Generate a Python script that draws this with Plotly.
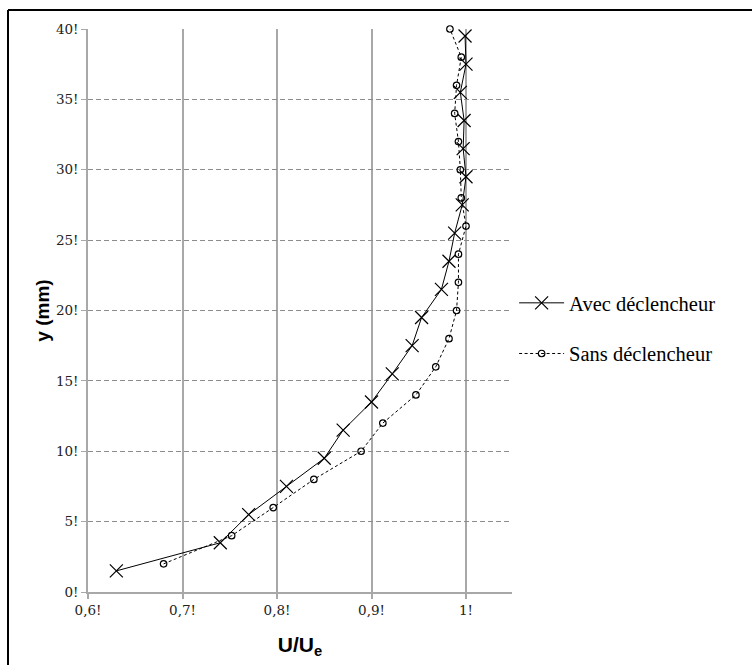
import plotly.graph_objects as go

# Velocity profiles U/Ue versus height y (mm)
y_avec = [1.5, 3.5, 5.5, 7.5, 9.5, 11.5, 13.5, 15.5, 17.5, 19.5,
          21.5, 23.5, 25.5, 27.5, 29.5, 31.5, 33.5, 35.5, 37.5, 39.5]
u_avec = [0.63, 0.74, 0.77, 0.81, 0.85, 0.87, 0.90, 0.922, 0.943, 0.953,
          0.974, 0.982, 0.988, 0.996, 1.0, 0.997, 0.998, 0.994, 1.0, 0.999]

y_sans = [2, 4, 6, 8, 10, 12, 14, 16, 18, 20,
          22, 24, 26, 28, 30, 32, 34, 36, 38, 40]
u_sans = [0.68, 0.752, 0.796, 0.839, 0.889, 0.912, 0.947, 0.968, 0.982, 0.990,
          0.992, 0.992, 1.0, 0.995, 0.994, 0.992, 0.988, 0.990, 0.995, 0.983]

x_ticks = [0.6, 0.7, 0.8, 0.9, 1.0]
x_tick_text = ["0,6!", "0,7!", "0,8!", "0,9!", "1!"]
y_ticks = [0, 5, 10, 15, 20, 25, 30, 35, 40]
y_tick_text = ["0!", "5!", "10!", "15!", "20!", "25!", "30!", "35!", "40!"]

W, H = 752, 665
L, R, T, B = 88, 240, 29, 71
plot_w = W - L - R
plot_h = H - T - B

fig = go.Figure()
fig.add_trace(go.Scatter(
    x=u_avec, y=y_avec, mode="lines+markers", name="Avec déclencheur",
    legendgroup="a", cliponaxis=False,
    line=dict(color="black", width=1.0),
    marker=dict(symbol="x-thin-open", size=13, line=dict(color="black", width=1.2)),
))
fig.add_trace(go.Scatter(
    x=u_sans, y=y_sans, mode="lines+markers", name="Sans déclencheur",
    legendgroup="b", cliponaxis=False,
    line=dict(color="black", width=1.0, dash="3px,2.5px"),
    marker=dict(symbol="circle-open", size=6.5, color="black",
                line=dict(color="black", width=1.2)),
))

tick_font = dict(family="DejaVu Serif", size=13.5, color="#222")
fig.update_xaxes(
    range=[0.6, 0.6 + plot_w / 945.0],
    tickvals=x_ticks, ticktext=x_tick_text, tickfont=tick_font,
    showgrid=True, gridcolor="#a8a8a8", gridwidth=1.5,
    showline=True, linecolor="#a8a8a8", linewidth=1.5,
    ticks="outside", ticklen=5, tickcolor="#a8a8a8", tickwidth=1.5,
    zeroline=False,
    title=dict(text="<b>U/U<sub>e</sub></b>", standoff=20,
               font=dict(family="Liberation Sans", size=21, color="black")),
)
fig.update_yaxes(
    range=[0, 40],
    tickvals=y_ticks, ticktext=y_tick_text, tickfont=tick_font,
    showgrid=True, gridcolor="#8c8c8c", gridwidth=1, griddash="5px,3px",
    showline=True, linecolor="#a8a8a8", linewidth=1.5,
    ticks="outside", ticklen=5, tickcolor="#a8a8a8", tickwidth=1,
    zeroline=False,
    title=dict(text="<b>y (mm)</b>", standoff=1,
               font=dict(family="Liberation Sans", size=19, color="black")),
)

# Frame lines along the top and left of the figure
x_left = (8 - L) / plot_w
y_top = 1 + (T - 10) / plot_h
fig.add_shape(type="line", xref="paper", yref="paper",
              x0=x_left, x1=(W - L) / plot_w, y0=y_top, y1=y_top,
              line=dict(color="black", width=2))
fig.add_shape(type="line", xref="paper", yref="paper",
              x0=x_left, x1=x_left, y0=y_top, y1=-(B + 5) / plot_h,
              line=dict(color="black", width=2))

fig.update_layout(
    width=W, height=H,
    margin=dict(l=L, r=R, t=T, b=B),
    paper_bgcolor="white", plot_bgcolor="white",
    showlegend=True,
    legend=dict(x=1.005, xanchor="left", y=0.468, yanchor="middle",
                font=dict(family="Liberation Serif", size=20.5, color="black"),
                itemwidth=45, tracegroupgap=21, bgcolor="rgba(0,0,0,0)"),
)

fig.write_html("out.html")
